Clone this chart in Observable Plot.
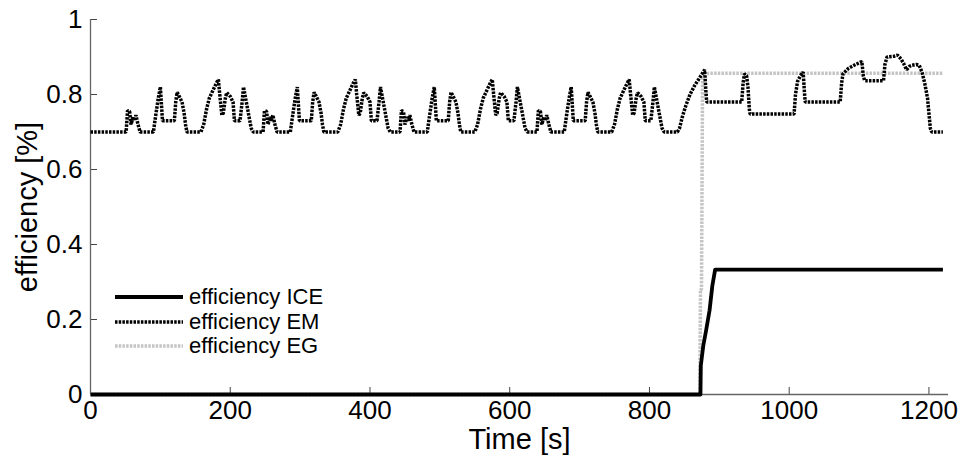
<!DOCTYPE html>
<html>
<head>
<meta charset="utf-8">
<script src="https://cdn.jsdelivr.net/npm/d3@7"></script>
<script src="https://cdn.jsdelivr.net/npm/@observablehq/plot@0.6"></script>
<style>
  html, body { margin: 0; padding: 0; background: #fff; }
  #wrap { position: relative; width: 960px; height: 465px; font-family: "Liberation Sans", Arial, sans-serif; }
  #legend { position: absolute; left: 115px; top: 285px; font-size: 22px; line-height: 24.5px; color: #000; }
  #legend .row { display: flex; align-items: center; height: 24.5px; }
  #legend svg { margin-right: 6px; }
</style>
</head>
<body>
<div id="wrap"><div id="legend"></div></div>
<script>
// Tick labels
const xTicks = [0, 200, 400, 600, 800, 1000, 1200];
const yTicks = [0, 0.2, 0.4, 0.6, 0.8, 1];
const seriesNames = ["efficiency ICE", "efficiency EM", "efficiency EG"];

// efficiency ICE [t, value]
const iceData = [[0,0],[873,0],[873.5,0.077],[877,0.13],[881,0.17],[886,0.224],[890,0.29],[894,0.333],[1220,0.333]];

// efficiency EG [t, value]
const egData = [[0,0],[872,0],[873,0.28],[874.5,0.28],[876,0.84],[879,0.85],[885,0.857],[1220,0.857]];

// efficiency EM [t, value]
const emData = [
  [0,0.70],[51,0.70],[53,0.757],[56,0.755],[58,0.72],[61,0.74],[63,0.73],[65,0.745],[68,0.72],[71,0.70],
  [90,0.70],[93,0.74],[97,0.79],[100,0.82],[102,0.76],[103,0.73],[120,0.73],[122,0.78],[124,0.806],[127,0.795],[131,0.78],[134,0.75],[136,0.72],[138,0.70],
  [158,0.70],[162,0.72],[166,0.76],[170,0.79],[175,0.81],[180,0.83],[183,0.84],[185,0.80],[188,0.745],[190,0.75],[193,0.79],[195,0.805],[200,0.795],[204,0.78],[206,0.73],[214,0.73],[217,0.78],[219,0.82],[222,0.79],[226,0.75],[230,0.71],[233,0.70],
  [247,0.70],[249,0.757],[252,0.755],[254,0.72],[257,0.74],[259,0.73],[261,0.745],[264,0.72],[267,0.70],
  [286,0.70],[289,0.74],[293,0.79],[296,0.82],[298,0.76],[299,0.73],[316,0.73],[318,0.78],[320,0.806],[323,0.795],[327,0.78],[330,0.75],[332,0.72],[334,0.70],
  [354,0.70],[358,0.72],[362,0.76],[366,0.79],[371,0.81],[376,0.83],[379,0.84],[381,0.80],[384,0.745],[386,0.75],[389,0.79],[391,0.805],[396,0.795],[400,0.78],[402,0.73],[410,0.73],[413,0.78],[415,0.82],[418,0.79],[422,0.75],[426,0.71],[429,0.70],
  [443,0.70],[445,0.757],[448,0.755],[450,0.72],[453,0.74],[455,0.73],[457,0.745],[460,0.72],[463,0.70],
  [482,0.70],[485,0.74],[489,0.79],[492,0.82],[494,0.76],[495,0.73],[512,0.73],[514,0.78],[516,0.806],[519,0.795],[523,0.78],[526,0.75],[528,0.72],[530,0.70],
  [550,0.70],[554,0.72],[558,0.76],[562,0.79],[567,0.81],[572,0.83],[575,0.84],[577,0.80],[580,0.745],[582,0.75],[585,0.79],[587,0.805],[592,0.795],[596,0.78],[598,0.73],[606,0.73],[609,0.78],[611,0.82],[614,0.79],[618,0.75],[622,0.71],[625,0.70],
  [639,0.70],[641,0.757],[644,0.755],[646,0.72],[649,0.74],[651,0.73],[653,0.745],[656,0.72],[659,0.70],
  [678,0.70],[681,0.74],[685,0.79],[688,0.82],[690,0.76],[691,0.73],[708,0.73],[710,0.78],[712,0.806],[715,0.795],[719,0.78],[722,0.75],[724,0.72],[726,0.70],
  [746,0.70],[750,0.72],[754,0.76],[758,0.79],[763,0.81],[768,0.83],[771,0.84],[773,0.80],[776,0.745],[778,0.75],[781,0.79],[783,0.805],[788,0.795],[792,0.78],[794,0.73],[802,0.73],[805,0.78],[807,0.82],[810,0.79],[814,0.75],[818,0.71],[821,0.70],
  [840,0.70],[843,0.71],[847,0.74],[852,0.77],[858,0.80],[865,0.825],[872,0.845],[879,0.866],[881,0.80],[882,0.78],
  [932,0.78],[934,0.83],[936,0.855],[939,0.85],[941,0.82],[943,0.76],[944,0.748],
  [1007,0.748],[1009,0.80],[1012,0.835],[1016,0.85],[1020,0.86],[1022,0.80],[1023,0.78],
  [1073,0.78],[1075,0.83],[1077,0.855],[1085,0.87],[1095,0.88],[1104,0.888],[1106,0.85],[1108,0.837],
  [1135,0.837],[1137,0.88],[1140,0.90],[1150,0.902],[1155,0.905],[1160,0.895],[1164,0.882],[1168,0.866],[1172,0.875],[1176,0.878],[1182,0.88],[1186,0.878],
  [1190,0.86],[1194,0.83],[1198,0.79],[1200,0.75],[1202,0.71],[1204,0.70],[1220,0.70]
];

const styles = [
  {stroke: "#000", strokeWidth: 3.8, dash: null},
  {stroke: "#000", strokeWidth: 3.5, dash: "2.5,1.2"},
  {stroke: "#c4c4c4", strokeWidth: 3.5, dash: "2.5,1.2"}
];

const font = "Liberation Sans, Arial, sans-serif";

const chart = Plot.plot({
  width: 960,
  height: 465,
  marginLeft: 90,
  marginRight: 12,
  marginTop: 19,
  marginBottom: 71,
  style: {fontFamily: font, fontSize: "26px", color: "#000", background: "transparent", overflow: "visible"},
  x: {domain: [0, 1228], axis: null},
  y: {domain: [0, 1], axis: null},
  marks: [
    Plot.axisX({ticks: xTicks, tickFormat: d => String(d), tickSize: -7, tickPadding: 13, label: null, stroke: "#444", fill: "#000", fontSize: 26}),
    Plot.axisY({ticks: yTicks, tickFormat: d => String(d), tickSize: -7, tickPadding: 15, label: null, stroke: "#444", fill: "#000", fontSize: 26}),
    Plot.ruleY([0], {stroke: "#666", strokeWidth: 1.3}),
    Plot.ruleX([0], {stroke: "#666", strokeWidth: 1.3}),
    Plot.line(egData, {x: d => d[0], y: d => d[1], stroke: styles[2].stroke, strokeWidth: styles[2].strokeWidth, strokeDasharray: styles[2].dash, strokeLinecap: "butt", strokeLinejoin: "miter", curve: "linear"}),
    Plot.line(emData, {x: d => d[0], y: d => d[1], stroke: styles[1].stroke, strokeWidth: styles[1].strokeWidth, strokeDasharray: styles[1].dash, strokeLinecap: "butt", strokeLinejoin: "miter", curve: "linear"}),
    Plot.line(iceData, {x: d => d[0], y: d => d[1], stroke: styles[0].stroke, strokeWidth: styles[0].strokeWidth, strokeLinecap: "butt", curve: "linear"}),
    Plot.text(["Time [s]"], {frameAnchor: "bottom", dy: 45, textAnchor: "middle", lineAnchor: "middle", fontSize: 29, fill: "#000"}),
    Plot.text(["efficiency [%]"], {frameAnchor: "left", dx: -63, textAnchor: "middle", lineAnchor: "middle", rotate: -90, fontSize: 29, fill: "#000"})
  ]
});
chart.style.position = "absolute";
chart.style.left = "0";
chart.style.top = "0";
const wrap = document.getElementById("wrap");
wrap.insertBefore(chart, wrap.firstChild);

const legend = document.getElementById("legend");
seriesNames.forEach((name, i) => {
  const row = document.createElement("div");
  row.className = "row";
  const s = styles[i];
  row.innerHTML = `<svg width="68" height="10"><line x1="0" y1="5" x2="68" y2="5" stroke="${s.stroke}" stroke-width="${s.strokeWidth}" ${s.dash ? `stroke-dasharray="${s.dash}"` : ""}/></svg><span>${name}</span>`;
  legend.appendChild(row);
});
</script>
</body>
</html>
